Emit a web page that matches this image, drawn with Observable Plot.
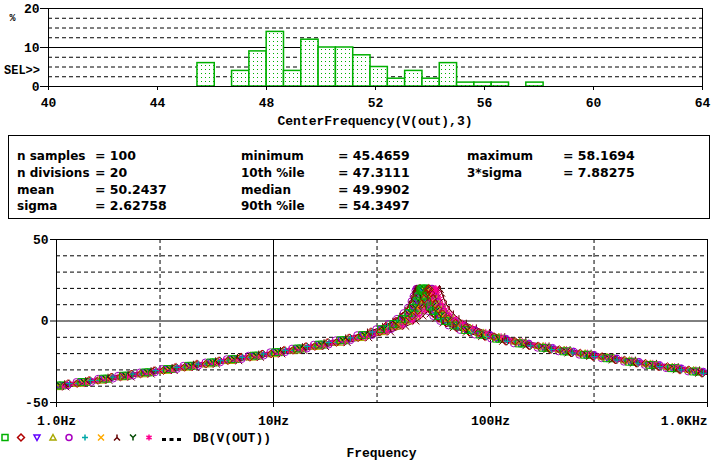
<!DOCTYPE html>
<html><head><meta charset="utf-8">
<script src="https://cdn.jsdelivr.net/npm/d3@7"></script>
<script src="https://cdn.jsdelivr.net/npm/@observablehq/plot@0.6"></script>
<style>
html,body{margin:0;padding:0;background:#fff;}
#root{position:relative;width:714px;height:464px;overflow:hidden;background:#fff;}
#root > svg{position:absolute;left:0;display:block;}
</style></head><body><div id="root"></div>
<script>
// ---------- Histogram data ----------
const histBinEdges = [45.4659, 46.1011, 46.7363, 47.3714, 48.0066, 48.6418, 49.2770, 49.9121, 50.5473, 51.1825, 51.8177, 52.4528, 53.0880, 53.7232, 54.3584, 54.9935, 55.6287, 56.2639, 56.8991, 57.5342, 58.1694];
const histPercent = [6, 0, 4, 9, 14, 4, 12, 10, 10, 8, 5, 2, 4, 2, 6, 1, 1, 1, 0, 1];
const histXTicks = [40, 44, 48, 52, 56, 60, 64];
const histYTicks = [0, 10, 20];
const histGridDashed = [2.5, 5, 7.5, 12.5, 15, 17.5];
const histGridSolid = [10];
const histXLabel = "CenterFrequency(V(out),3)";

// ---------- Statistics ----------
const statLabels = [
  ["n samples", "n divisions", "mean", "sigma"],
  ["minimum", "10th %ile", "median", "90th %ile"],
  ["maximum", "3*sigma"]
];
const statValues = [
  ["100", "20", "50.2437", "2.62758"],
  ["45.4659", "47.3111", "49.9902", "54.3497"],
  ["58.1694", "7.88275"]
];

// ---------- Frequency response data ----------
// Monte Carlo run centre frequencies (Hz), read from the histogram distribution
const runCenterFreq = [49.84, 47.55, 52.61, 54.62, 45.73, 51.09, 48.39, 58.17, 49.30, 50.13, 50.77, 46.97, 48.62, 51.46, 53.65, 47.90, 50.45, 45.47, 49.57, 55.95, 48.17, 51.88];
// response shape: frequency / centre frequency
const responseRatio = [0.017, 0.019, 0.021, 0.024, 0.027, 0.030, 0.034, 0.038, 0.042, 0.047, 0.053, 0.060, 0.067, 0.075, 0.084, 0.094, 0.106, 0.119, 0.133, 0.150, 0.168, 0.188, 0.211, 0.237, 0.266, 0.299, 0.335, 0.376, 0.422, 0.473, 0.531, 0.596,
  0.65, 0.70, 0.74, 0.78, 0.81, 0.84, 0.87, 0.89, 0.91, 0.93, 0.945, 0.955, 0.965, 0.975, 0.985, 0.99, 0.995, 1.0, 1.005, 1.01, 1.015, 1.025, 1.035, 1.045, 1.06, 1.075, 1.09, 1.11, 1.13, 1.16, 1.19, 1.23, 1.28, 1.33, 1.40, 1.48, 1.58, 1.70, 1.85,
  2.0, 2.2, 2.5, 2.8, 3.2, 3.6, 4.0, 4.5, 5.0, 5.6, 6.3, 7.1, 8.0, 9.0, 10.0, 11.2, 12.6, 14.1, 15.8, 17.8, 20.0, 22.4];
// DB(V(OUT)) at those points
const responseDb = [-41.41, -40.44, -39.57, -38.42, -37.39, -36.47, -35.38, -34.41, -33.54, -32.56, -31.51, -30.43, -29.46, -28.47, -27.47, -26.48, -25.41, -24.39, -23.39, -22.30, -21.26, -20.23, -19.14, -18.03, -16.88, -15.70, -14.49, -13.20, -11.81, -10.32, -8.64, -6.71,
  -4.99, -3.27, -1.78, -0.08, 1.36, 3.00, 4.92, 6.42, 8.16, 10.25, 12.13, 13.57, 15.18, 16.93, 18.65, 19.35, 19.83, 20.00, 19.83, 19.36, 18.68, 17.04, 15.38, 13.87, 11.91, 10.28, 8.89, 7.33, 6.02, 4.38, 3.02, 1.51, -0.02, -1.29, -2.77, -4.15, -5.56, -6.95, -8.37,
  -9.55, -10.86, -12.47, -13.78, -15.23, -16.45, -17.50, -18.65, -19.65, -20.70, -21.79, -22.87, -23.95, -25.00, -25.93, -26.94, -27.97, -28.96, -29.96, -31.00, -32.02, -33.01];
const freqTicks = [1, 10, 100, 1000];
const freqTickLabels = ["1.0Hz", "10Hz", "100Hz", "1.0KHz"];
const dbTicks = [-50, 0, 50];
const dbTickLabels = ["-50", "0", "50"];
const freqGridDashed = [3, 30, 300];
const freqGridSolid = [10, 100];
const dbGridDashed = [-40, -30, -20, -10, 10, 20, 30, 40];
const dbGridSolid = [0];
const traceColors = ["#00b000", "#b00000", "#6000ff", "#a8a800", "#a800c0", "#00a8a8", "#ffaa00", "#640000", "#004800", "#ff0090"];
const traceName = "DB(V(OUT))";
const respXLabel = "Frequency";

// ---------- symbols ----------
const S = size => Math.sqrt(size / Math.PI);
const traceSymbols = [
  {draw(c, z){const s=S(z); c.moveTo(-s,-s); c.lineTo(s,-s); c.lineTo(s,s); c.lineTo(-s,s); c.closePath();}},
  {draw(c, z){const s=S(z)*1.15; c.moveTo(0,-s); c.lineTo(s,0); c.lineTo(0,s); c.lineTo(-s,0); c.closePath();}},
  {draw(c, z){const s=S(z); c.moveTo(-s,-s*0.8); c.lineTo(s,-s*0.8); c.lineTo(0,s); c.closePath();}},
  {draw(c, z){const s=S(z); c.moveTo(0,-s); c.lineTo(s,s*0.8); c.lineTo(-s,s*0.8); c.closePath();}},
  {draw(c, z){const s=S(z); c.moveTo(s,0); c.arc(0,0,s,0,2*Math.PI);}},
  {draw(c, z){const s=S(z); c.moveTo(-s,0); c.lineTo(s,0); c.moveTo(0,-s); c.lineTo(0,s);}},
  {draw(c, z){const s=S(z); c.moveTo(-s,-s); c.lineTo(s,s); c.moveTo(s,-s); c.lineTo(-s,s);}},
  {draw(c, z){const s=S(z); c.moveTo(0,-s); c.lineTo(0,0); c.lineTo(-s,s); c.moveTo(0,0); c.lineTo(s,s);}},
  {draw(c, z){const s=S(z); c.moveTo(-s,-s); c.lineTo(0,0); c.lineTo(s,-s); c.moveTo(0,0); c.lineTo(0,s);}},
  {draw(c, z){const s=S(z); c.moveTo(0,-s); c.lineTo(0,s); c.moveTo(-s*0.87,-s*0.5); c.lineTo(s*0.87,s*0.5); c.moveTo(s*0.87,-s*0.5); c.lineTo(-s*0.87,s*0.5);}}
];

const monoFont = "'Liberation Mono', 'Courier New', monospace";
const statFont = "'DejaVu Sans', sans-serif";
const green = "#00b000";

// ---------- Histogram ----------
const bars = histPercent.map((p, i) => ({x1: histBinEdges[i], x2: histBinEdges[i + 1], y: p})).filter(d => d.y > 0);
const hist = Plot.plot({
  width: 714, height: 130,
  marginTop: 8, marginBottom: 44, marginLeft: 48, marginRight: 12,
  style: {fontFamily: monoFont, fontSize: "13px", fontWeight: "bold", background: "transparent", color: "#000", overflow: "visible"},
  x: {domain: [40, 64], ticks: histXTicks, tickSize: 4, tickPadding: 7, tickFormat: d => String(d), label: null},
  y: {domain: [0, 20], ticks: histYTicks, tickSize: 8, tickPadding: 1, tickFormat: d => String(d), label: null},
  marks: [
    Plot.ruleY(histGridDashed, {stroke: "#000", strokeDasharray: "4,3", strokeWidth: 1}),
    Plot.ruleY(histGridSolid, {stroke: "#000", strokeWidth: 1}),
    Plot.rect(bars, {x1: "x1", x2: "x2", y1: 0, y2: "y", fill: "url(#dots)", stroke: green, strokeWidth: 1.5}),
    Plot.frame({stroke: "#000"})
  ]
});
const defs = d3.select(hist).insert("defs", ":first-child");
const pat = defs.append("pattern").attr("id", "dots").attr("width", 4).attr("height", 4).attr("patternUnits", "userSpaceOnUse");
pat.append("rect").attr("width", 4).attr("height", 4).attr("fill", "#fff");
pat.append("rect").attr("x", 1).attr("y", 1).attr("width", 1).attr("height", 1).attr("fill", green);

// ---------- Frequency response ----------
const runs = runCenterFreq.map((f0, i) => responseRatio.map((r, k) => ({f: f0 * r, db: responseDb[k], run: i, k})));
const traceMarks = [];
runs.forEach((rows, i) => {
  const color = traceColors[i % traceColors.length];
  traceMarks.push(Plot.line(rows, {x: "f", y: "db", stroke: color, strokeWidth: 1, clip: true}));
});
runs.forEach((rows, i) => {
  const color = traceColors[i % traceColors.length];
  traceMarks.push(Plot.dot(rows.filter(d => d.f >= 1 && d.f <= 1000 && (d.k + i) % 2 === 0), {x: "f", y: "db", r: 3.4, symbol: traceSymbols[i % traceSymbols.length], fill: "none", stroke: color, strokeWidth: 1, clip: true}));
});
const resp = Plot.plot({
  width: 714, height: 239,
  marginTop: 14, marginBottom: 62, marginLeft: 56, marginRight: 7,
  style: {fontFamily: monoFont, fontSize: "13px", fontWeight: "bold", background: "transparent", color: "#000", overflow: "visible"},
  x: {type: "log", domain: [1, 1000], ticks: freqTicks, tickSize: 5, tickPadding: 8, tickFormat: d => freqTickLabels[freqTicks.indexOf(d)] || "", label: null},
  y: {domain: [-50, 50], ticks: dbTicks, tickSize: 6, tickPadding: 2, tickFormat: d => dbTickLabels[dbTicks.indexOf(d)] || "", label: null},
  marks: [
    Plot.ruleY(dbGridDashed, {stroke: "#000", strokeDasharray: "4,3"}),
    Plot.ruleY(dbGridSolid, {stroke: "#000"}),
    Plot.ruleX(freqGridDashed, {stroke: "#000", strokeDasharray: "4,3"}),
    Plot.ruleX(freqGridSolid, {stroke: "#000"}),
    ...traceMarks,
    Plot.frame({stroke: "#000"})
  ]
});
d3.select(resp).selectAll("text").filter(function(){ return this.textContent === freqTickLabels[freqTickLabels.length - 1]; }).attr("text-anchor", "end");

const root = d3.select("#root");
root.append(() => hist).style("top", "0px");
root.append(() => resp).style("top", "225px");

// ---------- overlay: labels, stats box, legend ----------
const ov = root.append("svg").attr("width", 714).attr("height", 464).style("top", "0px");
ov.append("text").attr("x", 12.5).attr("y", 21).attr("text-anchor", "middle").attr("font-family", monoFont).attr("font-weight", "bold").attr("font-size", 10).text("%");
ov.append("text").attr("x", 4).attr("y", 74).attr("font-family", monoFont).attr("font-weight", "bold").attr("font-size", 12).text("SEL>>");
ov.append("text").attr("x", 375).attr("y", 125).attr("text-anchor", "middle").attr("font-family", monoFont).attr("font-weight", "bold").attr("font-size", 13).text(histXLabel);

ov.append("rect").attr("x", 8.5).attr("y", 135.5).attr("width", 701).attr("height", 83).attr("fill", "#fff").attr("stroke", "#000").attr("stroke-width", 1);
const colLabelX = [17, 241, 467], colEqX = [95, 338, 563], rowY = [159.5, 176.5, 193.5, 210];
statLabels.forEach((col, c) => col.forEach((lab, r) => {
  ov.append("text").attr("x", colLabelX[c]).attr("y", rowY[r]).attr("font-family", statFont).attr("font-weight", "bold").attr("font-size", 12).text(lab);
  ov.append("text").attr("x", colEqX[c]).attr("y", rowY[r]).attr("font-family", statFont).attr("font-weight", "bold").attr("font-size", 12.5).style("white-space", "pre").text("= " + statValues[c][r]);
}));

traceSymbols.forEach((sym, i) => {
  const p = d3.path(); sym.draw(p, Math.PI * 3 * 3);
  ov.append("path").attr("d", p.toString()).attr("transform", `translate(${5 + 16 * i},437.5)`).attr("fill", "none").attr("stroke", traceColors[i]).attr("stroke-width", 1.5);
});
ov.append("line").attr("x1", 162).attr("x2", 182).attr("y1", 439.5).attr("y2", 439.5).attr("stroke", "#000").attr("stroke-width", 3).attr("stroke-dasharray", "4,3.5");
ov.append("text").attr("x", 193).attr("y", 442).attr("font-family", monoFont).attr("font-weight", "bold").attr("font-size", 13).text(traceName);
ov.append("text").attr("x", 381.5).attr("y", 457).attr("text-anchor", "middle").attr("font-family", monoFont).attr("font-weight", "bold").attr("font-size", 13).text(respXLabel);
</script></body></html>
